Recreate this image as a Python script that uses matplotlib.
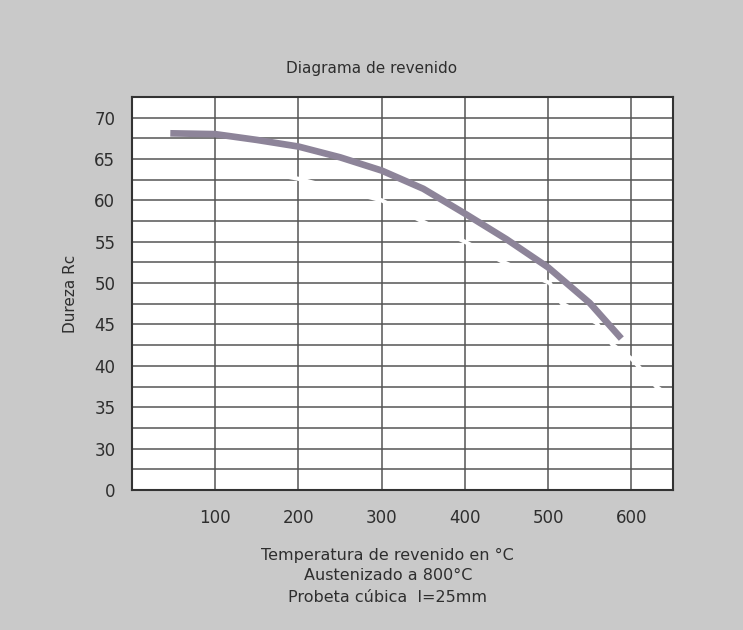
import numpy as np
import matplotlib
matplotlib.use('Agg')
import matplotlib.pyplot as plt

# Curva de revenido (dureza Rc vs temperatura)
temp = [46, 100, 150, 200, 250, 300, 350, 400, 450, 500, 550, 588]
dureza = [68.1, 68.0, 67.3, 66.5, 65.2, 63.6, 61.4, 58.4, 55.3, 51.9, 47.6, 43.3]

# Trazo blanco borrado (visible solo sobre la rejilla)
temp_b = [180, 200, 300, 346, 400, 445, 502, 516, 558, 577, 601, 630, 650]
dureza_b = [63.0, 62.6, 60.0, 57.6, 55.0, 52.6, 50.0, 47.6, 45.2, 42.6, 40.8, 37.5, 36.0]

x_ticks = [100, 200, 300, 400, 500, 600]
y_ticks = [25, 30, 35, 40, 45, 50, 55, 60, 65, 70]
y_labels = ['0', '30', '35', '40', '45', '50', '55', '60', '65', '70']

fig = plt.figure(figsize=(7.43, 6.3), dpi=100)
fig.patch.set_facecolor('#c9c9c9')
ax = fig.add_axes([0.1777, 0.2222, 0.728, 0.624])
ax.set_facecolor('white')

ax.set_xlim(0, 650)
ax.set_ylim(25, 72.5)

# rejilla
for y in np.arange(27.5, 72.5, 2.5):
    ax.axhline(y, color='#555555', linewidth=1.1, zorder=1)
for x in x_ticks:
    ax.axvline(x, color='#555555', linewidth=1.1, zorder=1)

ax.plot(temp_b, dureza_b, color='white', linewidth=3, zorder=2)
ax.plot(temp, dureza, color='#8d8499', linewidth=4.8, solid_capstyle='butt',
        solid_joinstyle='round', zorder=3)

ax.set_xticks(x_ticks)
ax.set_yticks(y_ticks)
ax.set_yticklabels(y_labels)
ax.tick_params(length=0, labelsize=12, labelcolor='#2e2e2e', pad=12)
ax.tick_params(axis='x', pad=14)
for s in ax.spines.values():
    s.set_color('#333333')
    s.set_linewidth(1.5)

ax.set_ylabel('Dureza Rc', fontsize=11, color='#2e2e2e', labelpad=12)

fig.text(0.5, 0.892, 'Diagrama de revenido', ha='center', va='center',
         fontsize=11, color='#2e2e2e')
fig.text(0.522, 0.119, 'Temperatura de revenido en °C', ha='center', va='center',
         fontsize=11.5, color='#2e2e2e')
fig.text(0.522, 0.087, 'Austenizado a 800°C', ha='center', va='center',
         fontsize=11.5, color='#2e2e2e')
fig.text(0.522, 0.052, 'Probeta cúbica  l=25mm', ha='center', va='center',
         fontsize=11.5, color='#2e2e2e')

fig.savefig('out.png', dpi=100, facecolor=fig.get_facecolor())
